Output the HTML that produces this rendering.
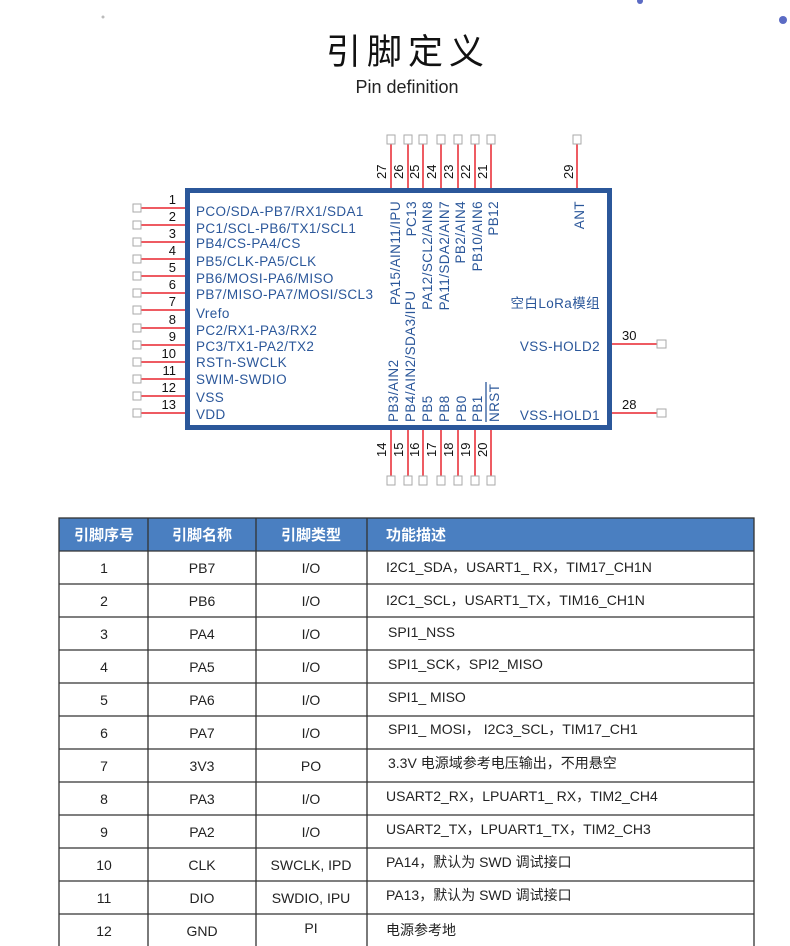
<!DOCTYPE html>
<html><head><meta charset="utf-8"><style>
html,body{margin:0;padding:0;background:#fff;width:790px;height:946px;overflow:hidden}
svg{display:block}
text{font-family:"Liberation Sans","Noto Sans CJK SC",sans-serif}
</style></head><body>
<svg width="790" height="946" viewBox="0 0 790 946" xmlns="http://www.w3.org/2000/svg">
<circle cx="103" cy="17" r="1.5" fill="#bbb"/>
<circle cx="640" cy="1" r="3" fill="#5b6bc4"/>
<circle cx="783" cy="20" r="4" fill="#5b6bc4"/>
<text x="408" y="64" font-size="35" text-anchor="middle" fill="#111" letter-spacing="6" font-family="Noto Sans CJK SC,sans-serif">引脚定义</text>
<text x="407" y="93" font-size="18" text-anchor="middle" fill="#222">Pin definition</text>

<g stroke="#e8252f" stroke-width="1.5">
<line x1="141" y1="208" x2="186" y2="208"/><line x1="141" y1="225" x2="186" y2="225"/><line x1="141" y1="242" x2="186" y2="242"/><line x1="141" y1="259" x2="186" y2="259"/><line x1="141" y1="276" x2="186" y2="276"/><line x1="141" y1="293" x2="186" y2="293"/><line x1="141" y1="310" x2="186" y2="310"/><line x1="141" y1="328" x2="186" y2="328"/><line x1="141" y1="345" x2="186" y2="345"/><line x1="141" y1="362" x2="186" y2="362"/><line x1="141" y1="379" x2="186" y2="379"/><line x1="141" y1="396" x2="186" y2="396"/><line x1="141" y1="413" x2="186" y2="413"/>
<line x1="391" y1="144" x2="391" y2="188"/><line x1="408" y1="144" x2="408" y2="188"/><line x1="423" y1="144" x2="423" y2="188"/><line x1="441" y1="144" x2="441" y2="188"/><line x1="458" y1="144" x2="458" y2="188"/><line x1="475" y1="144" x2="475" y2="188"/><line x1="491" y1="144" x2="491" y2="188"/><line x1="577" y1="144" x2="577" y2="188"/>
<line x1="391" y1="430" x2="391" y2="476"/><line x1="408" y1="430" x2="408" y2="476"/><line x1="423" y1="430" x2="423" y2="476"/><line x1="441" y1="430" x2="441" y2="476"/><line x1="458" y1="430" x2="458" y2="476"/><line x1="475" y1="430" x2="475" y2="476"/><line x1="491" y1="430" x2="491" y2="476"/>
<line x1="612" y1="344" x2="657" y2="344"/><line x1="612" y1="413" x2="657" y2="413"/>
</g>
<g fill="#fff" stroke="#aaa" stroke-width="1">
<rect x="133" y="204" width="8" height="8"/><rect x="133" y="221" width="8" height="8"/><rect x="133" y="238" width="8" height="8"/><rect x="133" y="255" width="8" height="8"/><rect x="133" y="272" width="8" height="8"/><rect x="133" y="289" width="8" height="8"/><rect x="133" y="306" width="8" height="8"/><rect x="133" y="324" width="8" height="8"/><rect x="133" y="341" width="8" height="8"/><rect x="133" y="358" width="8" height="8"/><rect x="133" y="375" width="8" height="8"/><rect x="133" y="392" width="8" height="8"/><rect x="133" y="409" width="8" height="8"/>
<rect x="387" y="135" width="8" height="9"/><rect x="404" y="135" width="8" height="9"/><rect x="419" y="135" width="8" height="9"/><rect x="437" y="135" width="8" height="9"/><rect x="454" y="135" width="8" height="9"/><rect x="471" y="135" width="8" height="9"/><rect x="487" y="135" width="8" height="9"/><rect x="573" y="135" width="8" height="9"/>
<rect x="387" y="476" width="8" height="9"/><rect x="404" y="476" width="8" height="9"/><rect x="419" y="476" width="8" height="9"/><rect x="437" y="476" width="8" height="9"/><rect x="454" y="476" width="8" height="9"/><rect x="471" y="476" width="8" height="9"/><rect x="487" y="476" width="8" height="9"/>
<rect x="657" y="340" width="9" height="8"/><rect x="657" y="409" width="9" height="8"/>
</g>
<rect x="187.5" y="190.5" width="422" height="237" fill="#fff" stroke="#2b579a" stroke-width="5"/>
<g font-size="13" fill="#111" text-anchor="end">
<text x="176" y="204">1</text><text x="176" y="221">2</text><text x="176" y="238">3</text><text x="176" y="255">4</text><text x="176" y="272">5</text><text x="176" y="289">6</text><text x="176" y="306">7</text><text x="176" y="324">8</text><text x="176" y="341">9</text><text x="176" y="358">10</text><text x="176" y="375">11</text><text x="176" y="392">12</text><text x="176" y="409">13</text>
</g>
<g font-size="13" fill="#111">
<text x="622" y="340">30</text><text x="622" y="409">28</text>
</g>
<g font-size="13" fill="#111">
<text transform="translate(386,179) rotate(-90)">27</text><text transform="translate(403,179) rotate(-90)">26</text><text transform="translate(419,179) rotate(-90)">25</text><text transform="translate(436,179) rotate(-90)">24</text><text transform="translate(453,179) rotate(-90)">23</text><text transform="translate(470,179) rotate(-90)">22</text><text transform="translate(487,179) rotate(-90)">21</text><text transform="translate(573,179) rotate(-90)">29</text>
<text transform="translate(386,457) rotate(-90)">14</text><text transform="translate(403,457) rotate(-90)">15</text><text transform="translate(419,457) rotate(-90)">16</text><text transform="translate(436,457) rotate(-90)">17</text><text transform="translate(453,457) rotate(-90)">18</text><text transform="translate(470,457) rotate(-90)">19</text><text transform="translate(487,457) rotate(-90)">20</text>
</g>
<g font-size="13.5" fill="#2b579a" letter-spacing="0.4">
<text x="196" y="216">PCO/SDA-PB7/RX1/SDA1</text>
<text x="196" y="233">PC1/SCL-PB6/TX1/SCL1</text>
<text x="196" y="248">PB4/CS-PA4/CS</text>
<text x="196" y="266">PB5/CLK-PA5/CLK</text>
<text x="196" y="283">PB6/MOSI-PA6/MISO</text>
<text x="196" y="299">PB7/MISO-PA7/MOSI/SCL3</text>
<text x="196" y="318">Vrefo</text>
<text x="196" y="335">PC2/RX1-PA3/RX2</text>
<text x="196" y="351">PC3/TX1-PA2/TX2</text>
<text x="196" y="367">RSTn-SWCLK</text>
<text x="196" y="384">SWIM-SWDIO</text>
<text x="196" y="402">VSS</text>
<text x="196" y="419">VDD</text>
<text x="600" y="351" text-anchor="end">VSS-HOLD2</text>
<text x="600" y="420" text-anchor="end">VSS-HOLD1</text>
<text x="600" y="308" text-anchor="end">空白LoRa模组</text>
</g>
<g font-size="13.5" fill="#2b579a" text-anchor="end" letter-spacing="0.4">
<text transform="translate(400,201) rotate(-90)">PA15/AIN11/IPU</text>
<text transform="translate(416,201) rotate(-90)">PC13</text>
<text transform="translate(432,201) rotate(-90)">PA12/SCL2/AIN8</text>
<text transform="translate(449,201) rotate(-90)">PA11/SDA2/AIN7</text>
<text transform="translate(465,201) rotate(-90)">PB2/AIN4</text>
<text transform="translate(482,201) rotate(-90)">PB10/AIN6</text>
<text transform="translate(498,201) rotate(-90)">PB12</text>
<text transform="translate(584,201) rotate(-90)">ANT</text>
</g>
<g font-size="13.5" fill="#2b579a" letter-spacing="0.4">
<text transform="translate(398,422) rotate(-90)">PB3/AIN2</text>
<text transform="translate(415,422) rotate(-90)">PB4/AIN2/SDA3/IPU</text>
<text transform="translate(432,422) rotate(-90)">PB5</text>
<text transform="translate(449,422) rotate(-90)">PB8</text>
<text transform="translate(466,422) rotate(-90)">PB0</text>
<text transform="translate(482,422) rotate(-90)">PB1</text>
<text transform="translate(499,422) rotate(-90)">NRST</text>
</g>
<line x1="486" y1="382" x2="486" y2="422" stroke="#2b579a" stroke-width="1.3"/>

<rect x="59" y="518" width="695" height="33" fill="#4a7fc1"/>
<g stroke="#333" stroke-width="1.3" fill="none">
<rect x="59" y="518" width="695" height="440"/>
<line x1="148" y1="518" x2="148" y2="946"/><line x1="256" y1="518" x2="256" y2="946"/><line x1="367" y1="518" x2="367" y2="946"/>
<line x1="59" y1="551" x2="754" y2="551"/><line x1="59" y1="584" x2="754" y2="584"/><line x1="59" y1="617" x2="754" y2="617"/><line x1="59" y1="650" x2="754" y2="650"/><line x1="59" y1="683" x2="754" y2="683"/><line x1="59" y1="716" x2="754" y2="716"/><line x1="59" y1="749" x2="754" y2="749"/><line x1="59" y1="782" x2="754" y2="782"/><line x1="59" y1="815" x2="754" y2="815"/><line x1="59" y1="848" x2="754" y2="848"/><line x1="59" y1="881" x2="754" y2="881"/><line x1="59" y1="914" x2="754" y2="914"/>
</g>
<g font-size="15" fill="#fff" font-weight="bold" font-family="Noto Sans CJK SC,sans-serif">
<text x="104" y="540" text-anchor="middle">引脚序号</text>
<text x="202" y="540" text-anchor="middle">引脚名称</text>
<text x="311" y="540" text-anchor="middle">引脚类型</text>
<text x="386" y="540">功能描述</text>
</g>
<g font-size="14" fill="#222" text-anchor="middle">
<text x="104" y="573">1</text><text x="202" y="573">PB7</text><text x="311" y="573">I/O</text>
<text x="104" y="606">2</text><text x="202" y="606">PB6</text><text x="311" y="606">I/O</text>
<text x="104" y="639">3</text><text x="202" y="639">PA4</text><text x="311" y="639">I/O</text>
<text x="104" y="672">4</text><text x="202" y="672">PA5</text><text x="311" y="672">I/O</text>
<text x="104" y="705">5</text><text x="202" y="705">PA6</text><text x="311" y="705">I/O</text>
<text x="104" y="738">6</text><text x="202" y="738">PA7</text><text x="311" y="738">I/O</text>
<text x="104" y="771">7</text><text x="202" y="771">3V3</text><text x="311" y="771">PO</text>
<text x="104" y="804">8</text><text x="202" y="804">PA3</text><text x="311" y="804">I/O</text>
<text x="104" y="837">9</text><text x="202" y="837">PA2</text><text x="311" y="837">I/O</text>
<text x="104" y="870">10</text><text x="202" y="870">CLK</text><text x="311" y="870">SWCLK, IPD</text>
<text x="104" y="903">11</text><text x="202" y="903">DIO</text><text x="311" y="903">SWDIO, IPU</text>
<text x="104" y="936">12</text><text x="202" y="936">GND</text><text x="311" y="933">PI</text>
</g>
<g font-size="14" fill="#222">
<text x="386" y="572">I2C1_SDA，USART1_ RX，TIM17_CH1N</text>
<text x="386" y="605">I2C1_SCL，USART1_TX，TIM16_CH1N</text>
<text x="388" y="637">SPI1_NSS</text>
<text x="388" y="669">SPI1_SCK，SPI2_MISO</text>
<text x="388" y="702">SPI1_ MISO</text>
<text x="388" y="734">SPI1_ MOSI， I2C3_SCL，TIM17_CH1</text>
<text x="388" y="768">3.3V 电源域参考电压输出，不用悬空</text>
<text x="386" y="801">USART2_RX，LPUART1_ RX，TIM2_CH4</text>
<text x="386" y="834">USART2_TX，LPUART1_TX，TIM2_CH3</text>
<text x="386" y="867">PA14，默认为 SWD 调试接口</text>
<text x="386" y="900">PA13，默认为 SWD 调试接口</text>
<text x="386" y="935">电源参考地</text>
</g>
</svg>
</body></html>
